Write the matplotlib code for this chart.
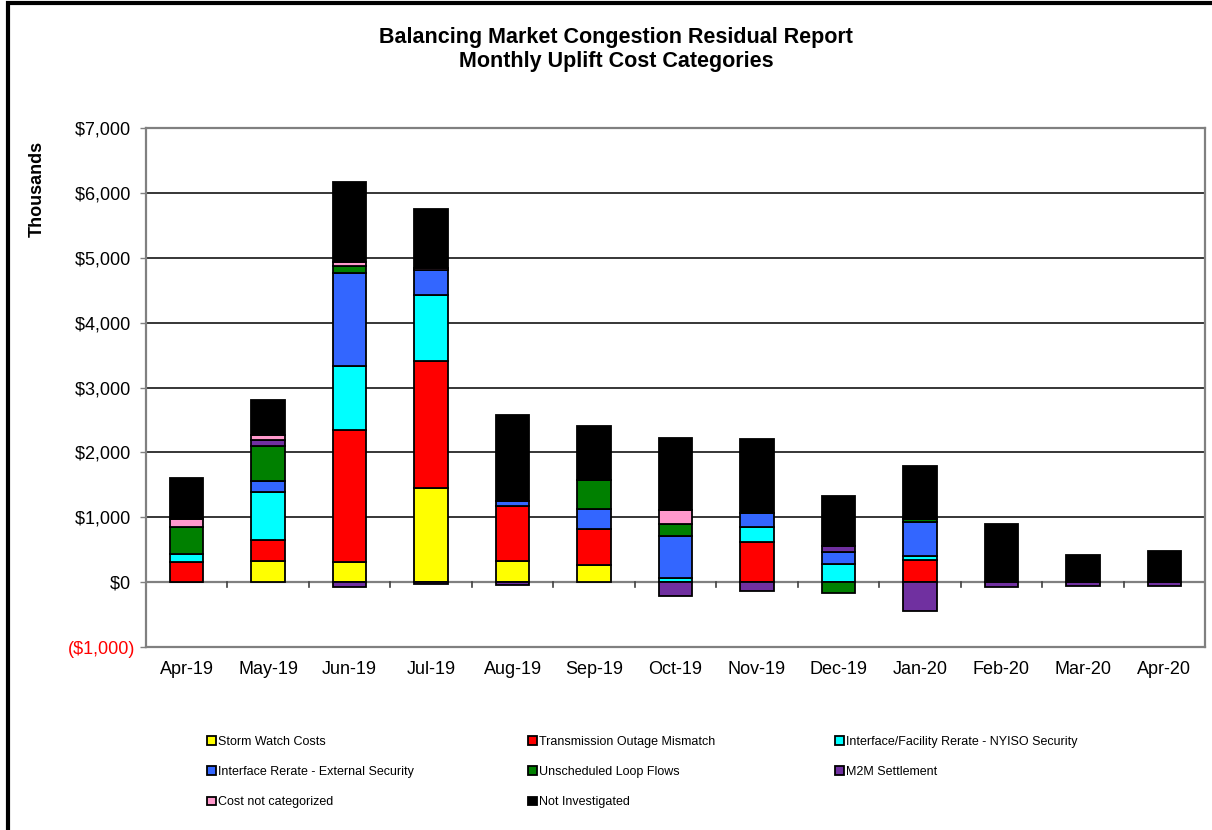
import numpy as np
import matplotlib.pyplot as plt
from matplotlib.patches import Rectangle

plt.rcParams['font.family'] = ['Liberation Sans', 'DejaVu Sans']

months = ['Apr-19', 'May-19', 'Jun-19', 'Jul-19', 'Aug-19', 'Sep-19', 'Oct-19',
          'Nov-19', 'Dec-19', 'Jan-20', 'Feb-20', 'Mar-20', 'Apr-20']

# monthly uplift by category, $ thousands
storm_watch     = [0, 328, 312, 1446, 323, 257, 0, 0, 0, 0, 0, 0, 0]
trans_outage    = [315, 318, 2026, 1969, 846, 558, 0, 620, 0, 338, 0, 0, 0]
facility_rerate = [120, 739, 1000, 1016, 0, 0, 66, 231, 277, 62, 0, 0, 0]
external_rerate = [0, 180, 1431, 384, 82, 319, 646, 215, 185, 523, 0, 0, 0]
loop_flows      = [420, 538, 103, 0, 0, 435, 180, 0, -170, 51, 0, 0, 0]
m2m_settlement  = [0, 92, -75, -25, -50, 0, -215, -133, 102, -441, -70, -55, -55]
not_categorized = [115, 67, 56, 30, 0, 0, 226, 0, 0, 0, 0, 0, 0]
not_investigated = [630, 553, 1246, 912, 1318, 831, 1102, 1139, 759, 816, 897, 420, 477]

series = [
    ('Storm Watch Costs', storm_watch, '#FFFF00'),
    ('Transmission Outage Mismatch', trans_outage, '#FF0000'),
    ('Interface/Facility Rerate - NYISO Security', facility_rerate, '#00FFFF'),
    ('Interface Rerate - External Security', external_rerate, '#3366FF'),
    ('Unscheduled Loop Flows', loop_flows, '#008000'),
    ('M2M Settlement', m2m_settlement, '#7030A0'),
    ('Cost not categorized', not_categorized, '#FF99CC'),
    ('Not Investigated', not_investigated, '#000000'),
]

W, H = 1212, 830
fig = plt.figure(figsize=(W / 100, H / 100), dpi=100)
ax = fig.add_axes([146 / W, 1 - 647 / H, (1205 - 146) / W, (647 - 128) / H])

x = np.arange(len(months))
pos_base = np.zeros(len(months))
neg_base = np.zeros(len(months))
handles = {}
for name, vals, col in series:
    v = np.array(vals, dtype=float)
    bottom = np.where(v >= 0, pos_base, neg_base)
    bars = ax.bar(x, v, 0.41, bottom=bottom, color=col, edgecolor='black',
                  linewidth=1.3, label=name, zorder=3)
    handles[name] = bars
    pos_base += np.where(v > 0, v, 0)
    neg_base += np.where(v < 0, v, 0)

ax.set_xlim(-0.5, len(months) - 0.5)
ax.set_ylim(-1000, 7000)
ax.set_yticks(np.arange(-1000, 7001, 1000))
# accounting style: positives leave room for the closing bracket
ylabels = ['(${:,.0f})'.format(-t) if t < 0 else '${:,.0f} '.format(t)
           for t in np.arange(-1000, 7001, 1000)]
ax.set_yticklabels(ylabels, fontsize=13)
ax.get_yticklabels()[0].set_color('#FF0000')
ax.tick_params(axis='y', length=4, width=1, color='#808080', pad=4)

for g in range(1000, 7000, 1000):
    ax.axhline(g, color='black', lw=1.1, zorder=1)
ax.axhline(0, color='#808080', lw=1.6, zorder=2)

# category boundary ticks hang below the zero line
for b in np.arange(0.5, len(months) - 0.5):
    ax.plot([b, b], [0, -80], color='#404040', lw=1.2, zorder=2, clip_on=False)

ax.set_xticks(x)
ax.set_xticklabels(months, fontsize=13)
ax.tick_params(axis='x', length=0, pad=10)

for s in ax.spines.values():
    s.set_color('#808080')
    s.set_linewidth(1.6)

fig.text(616 / W, 1 - 38 / H, 'Balancing Market Congestion Residual Report',
         ha='center', va='center', fontsize=15.5, fontweight='bold')
fig.text(616 / W, 1 - 61 / H, 'Monthly Uplift Cost Categories',
         ha='center', va='center', fontsize=15.5, fontweight='bold')
fig.text(37 / W, 1 - 189 / H, 'Thousands', rotation=90, ha='center',
         va='center', fontsize=13, fontweight='bold')

# three legend columns, filled row by row
columns = [
    (207, ['Storm Watch Costs', 'Interface Rerate - External Security', 'Cost not categorized']),
    (528, ['Transmission Outage Mismatch', 'Unscheduled Loop Flows', 'Not Investigated']),
    (835, ['Interface/Facility Rerate - NYISO Security', 'M2M Settlement']),
]
for cx, names in columns:
    fig.legend([handles[n] for n in names], names, loc='upper left',
               bbox_to_anchor=(cx / W, 1 - 736 / H), frameon=False,
               prop={'family': ['Liberation Sans Narrow', 'Liberation Sans'], 'size': 9},
               handlelength=0.7, handleheight=0.7, handletextpad=0.15,
               labelspacing=1.45, borderaxespad=0, borderpad=0)

# chart frame
fig.patches.append(Rectangle((8 / W, -0.05), 1.1, 1 - 3 / H + 0.05,
                             transform=fig.transFigure, fill=False,
                             edgecolor='black', lw=3))

fig.savefig('out.png', dpi=100)
